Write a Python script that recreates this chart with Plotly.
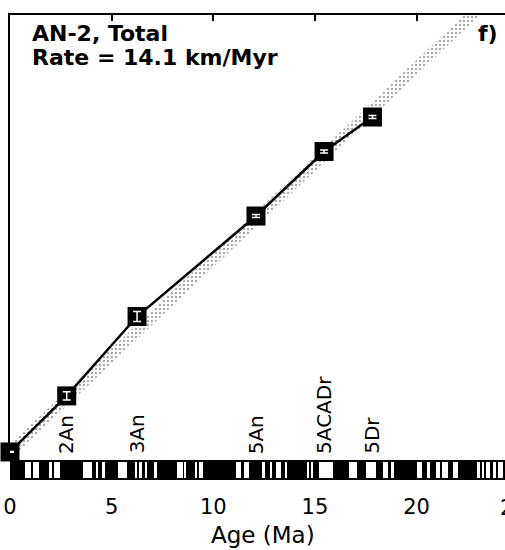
import plotly.graph_objects as go

# ---------------- data ----------------
ages_ma = [0.0, 2.79, 6.25, 12.10, 15.45, 17.83]          # anomaly ages (Ma)
distance_km = [0.0, 41.1, 99.3, 173.0, 220.3, 245.6]       # distance (km)
distance_err_km = [0.3, 3.0, 3.7, 1.1, 1.1, 1.1]           # error bars (km)

chron_labels = ["2An", "3An", "5An", "5ACADr", "5Dr"]
chron_ages = [2.79, 6.25, 12.10, 15.45, 17.83]

rate_km_per_myr = 14.1
rate_band_halfwidth_km = 5.5
fit_ages = [0.0, 24.5]

x_tick_values = [0, 5, 10, 15, 20]
x_tick_cut_label = "25"

# reversed-polarity (white) intervals of the timescale bar (Ma)
reversed_start = [0.74, 1.13, 1.92, 2.16, 3.59, 4.23, 4.51, 5.31, 6.15, 6.39,
                  6.62, 7.08, 8.21, 8.58, 9.10, 9.32, 11.14, 11.49, 12.40, 12.79,
                  13.08, 13.28, 13.53, 14.61, 14.83, 15.20, 16.67, 17.51, 18.37, 18.74,
                  20.04, 20.51, 20.95, 21.27, 21.79, 22.97, 23.20, 23.41, 23.76, 24.03]
reversed_end = [1.03, 1.43, 2.07, 2.46, 4.03, 4.33, 4.65, 5.75, 6.23, 6.47,
                6.74, 7.21, 8.51, 8.68, 9.20, 9.47, 11.36, 11.76, 12.54, 12.89,
                13.21, 13.35, 13.61, 14.68, 14.92, 15.89, 17.09, 18.00, 18.59, 18.89,
                20.29, 20.68, 21.15, 21.54, 22.04, 23.12, 23.31, 23.61, 23.91, 24.25]
timescale_span = [0.0, 26.0]

# ---------------- figure ----------------
FONT = "DejaVu Sans"
X_RANGE = [0, 24.35]
fig = go.Figure()

band_lower = [rate_km_per_myr * a - rate_band_halfwidth_km for a in fit_ages]
band_upper = [rate_km_per_myr * a + rate_band_halfwidth_km for a in fit_ages]

# confidence band (bottom layer, on x / y)
fig.add_trace(go.Scatter(x=fit_ages, y=band_lower, mode="lines",
                         line=dict(width=0, color="rgba(0,0,0,0)"),
                         xaxis="x", yaxis="y",
                         hoverinfo="skip", showlegend=False))
fig.add_trace(go.Scatter(x=fit_ages, y=band_upper, mode="lines",
                         line=dict(width=0, color="rgba(0,0,0,0)"),
                         fill="tonexty", fillcolor="rgba(0,0,0,0)",
                         fillpattern=dict(shape=".", fgcolor="#555555", bgcolor="white",
                                          size=4, solidity=0.3),
                         xaxis="x", yaxis="y",
                         hoverinfo="skip", showlegend=False))

# data (top layer, on x2 / y)
fig.add_trace(go.Scatter(x=ages_ma, y=distance_km, mode="lines+markers",
                         line=dict(color="black", width=2.5),
                         marker=dict(symbol="square", size=19, color="black"),
                         xaxis="x2", yaxis="y",
                         cliponaxis=False, hoverinfo="skip", showlegend=False))
fig.add_trace(go.Scatter(x=ages_ma, y=distance_km, mode="markers",
                         marker=dict(symbol="square", size=19, opacity=0),
                         error_y=dict(type="data", array=distance_err_km, color="white",
                                      thickness=1.5, width=4),
                         xaxis="x2", yaxis="y",
                         cliponaxis=False, hoverinfo="skip", showlegend=False))

# polarity timescale bar
fig.add_trace(go.Bar(x=[timescale_span[1] - timescale_span[0]], base=[timescale_span[0]],
                     y=[0], orientation="h", width=1.0,
                     marker=dict(color="black", line=dict(width=0)),
                     xaxis="x", yaxis="y2", hoverinfo="skip", showlegend=False))
fig.add_trace(go.Bar(x=[e - s for s, e in zip(reversed_start, reversed_end)],
                     base=reversed_start, y=[0] * len(reversed_start),
                     orientation="h", width=0.8,
                     marker=dict(color="white", line=dict(width=0)),
                     xaxis="x", yaxis="y2", hoverinfo="skip", showlegend=False))

annotations = []
for lab, a in zip(chron_labels, chron_ages):
    annotations.append(dict(x=a, y=0.052, xref="x", yref="paper", text=lab,
                            textangle=-90, showarrow=False, xanchor="center",
                            yanchor="bottom", font=dict(family=FONT, size=20, color="black")))
annotations += [
    dict(x=0.040, y=0.992, xref="paper", yref="paper", text="<b>AN-2, Total</b>",
         showarrow=False, xanchor="left", yanchor="top",
         font=dict(family=FONT, size=22, color="black")),
    dict(x=0.040, y=0.940, xref="paper", yref="paper",
         text=f"<b>Rate = {rate_km_per_myr} km/Myr</b>",
         showarrow=False, xanchor="left", yanchor="top",
         font=dict(family=FONT, size=22, color="black")),
    dict(x=0.99, y=0.992, xref="paper", yref="paper", text="<b>f)</b>",
         showarrow=False, xanchor="right", yanchor="top",
         font=dict(family=FONT, size=22, color="black")),
    dict(x=0.986, y=-0.030, xref="paper", yref="paper", text=x_tick_cut_label,
         showarrow=False, xanchor="left", yanchor="top",
         font=dict(family=FONT, size=21, color="black")),
    dict(x=0.512, y=-0.086, xref="paper", yref="paper", text="Age (Ma)",
         showarrow=False, xanchor="center", yanchor="top",
         font=dict(family=FONT, size=23, color="black")),
]

bar_frac = 20 / 465
fig.update_layout(
    width=505, height=550,
    margin=dict(l=10, r=0, t=15, b=70, autoexpand=False),
    paper_bgcolor="white", plot_bgcolor="white",
    barmode="overlay", bargap=0,
    xaxis=dict(domain=[0, 1], range=X_RANGE, anchor="y2", showline=False,
               ticks="", tickvals=x_tick_values, ticklabelstandoff=12,
               tickfont=dict(family=FONT, size=21, color="black"),
               showgrid=False, zeroline=False, automargin=False),
    xaxis2=dict(overlaying="x", anchor="y", side="top", range=X_RANGE,
                showline=True, linecolor="black", linewidth=2,
                ticks="inside", ticklen=6, tickwidth=1.5, tickcolor="black",
                tickvals=x_tick_values, showticklabels=False,
                showgrid=False, zeroline=False, automargin=False),
    yaxis=dict(domain=[bar_frac, 1], range=[-5.9, 320.4], anchor="x",
               showline=True, linecolor="black", linewidth=2,
               ticks="", showticklabels=False, showgrid=False, zeroline=False,
               automargin=False),
    yaxis2=dict(domain=[0, bar_frac], range=[-0.5, 0.5], anchor="x",
                visible=False, fixedrange=True, automargin=False),
    annotations=annotations,
    showlegend=False,
)

fig.write_html("out.html",
               config={"displayModeBar": False},
               post_script="document.body.style.margin='0';document.body.style.overflow='hidden';")
